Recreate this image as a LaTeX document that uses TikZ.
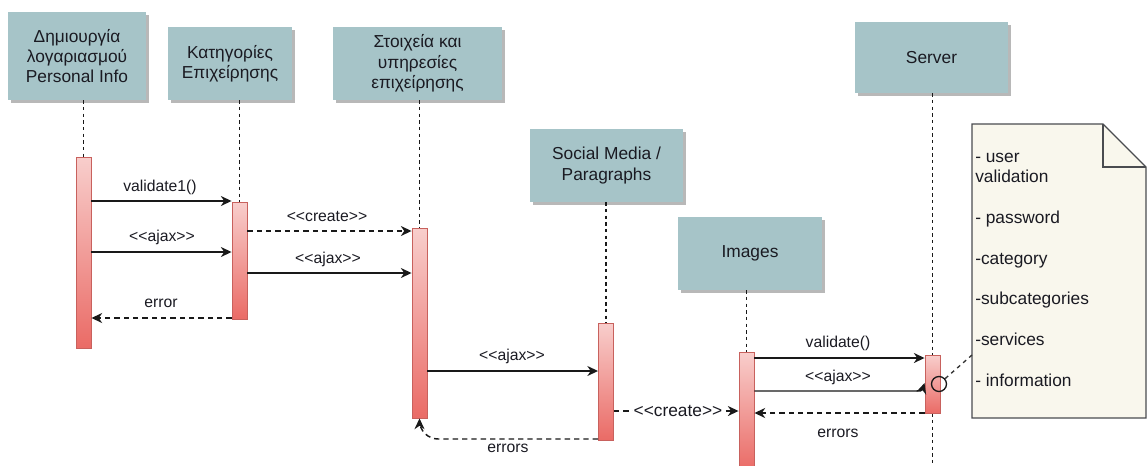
\documentclass[tikz,border=0pt]{standalone}
\usepackage{fontspec}
\setmainfont{Liberation Sans}
\usetikzlibrary{arrows.meta,shadows}
\definecolor{boxc}{HTML}{A6C4C8}
\definecolor{bartop}{HTML}{F8CECC}
\definecolor{barbot}{HTML}{EA6B66}
\definecolor{barline}{HTML}{C8615D}
\definecolor{notefill}{HTML}{F9F7ED}
\definecolor{noteline}{HTML}{4A4C50}
\definecolor{txt}{HTML}{1A1A22}
\begin{document}
\begin{tikzpicture}[x=0.75pt,y=-0.75pt,
  box/.style={fill=boxc, draw=none, align=center, text=txt,
    font=\fontsize{13}{15.3}\selectfont, inner sep=0pt,
    drop shadow={shadow xshift=2.5pt, shadow yshift=-2.5pt, fill=black!28, opacity=1}},
  bar/.style={top color=bartop, bottom color=barbot, draw=barline, line width=0.7pt,
    minimum width=11.25pt, inner sep=0pt},
  life/.style={draw=black!90, line width=1pt, dash pattern=on 2.5pt off 2.5pt},
  msg/.style={draw=black!90, line width=1.1pt, -{Stealth[length=8pt,width=7.5pt,inset=2.5pt]}},
  ret/.style={msg, dash pattern=on 4pt off 3pt},
  lbl/.style={text=txt, font=\fontsize{11.8}{14}\selectfont, inner sep=1pt},
  notetxt/.style={text=txt, font=\fontsize{13}{15.3}\selectfont, inner sep=0pt, anchor=base west}]
\useasboundingbox (0,0) rectangle (1147,465);
\clip (0,0) rectangle (1147,465);

% participants
\node[box, minimum width=103.5pt, minimum height=66pt] (p1) at (77,56) {Δημιουργία\\λογαριασμού\\Personal Info};
\node[box, minimum width=93pt, minimum height=54.75pt] (p2) at (230,63.5) {Κατηγορίες\\Επιχείρησης};
\node[box, minimum width=126.75pt, minimum height=54.75pt] (p3) at (417.5,63.5) {Στοιχεία και\\υπηρεσίες\\επιχείρησης};
\node[box, minimum width=114.75pt, minimum height=54.75pt] (p4) at (606.5,165.5) {Social Media /\\Paragraphs};
\node[box, minimum width=108pt, minimum height=54.75pt] (p5) at (750,253.5) {Images};
\node[box, minimum width=114.75pt, minimum height=53.25pt] (p6) at (931.5,57.5) {Server};

% lifeline end points (tops of the activation bars)
\coordinate (c1) at (83.5,157);
\coordinate (c2) at (239.5,202);
\coordinate (c3) at (419.5,228);
\coordinate (c4) at (606,323);
\coordinate (c5) at (746.5,352);
\coordinate (c6) at (932.5,355);

% lifelines
\draw[life] (c1 |- p1.south) -- (c1);
\draw[life] (c2 |- p2.south) -- (c2);
\draw[life] (c3 |- p3.south) -- (c3);
\draw[life] (c4 |- p4.south) -- (c4);
\draw[life] (c5 |- p5.south) -- (c5);
\draw[life] (c6 |- p6.south) -- (c6 |- 0,470);

\node[bar, minimum height=143.25pt] (b1) at (83.5,252.5) {};
\node[bar, minimum height=87.75pt] (b2) at (239.5,260.5) {};
\node[bar, minimum height=142.5pt] (b3) at (419.5,323) {};
\node[bar, minimum height=87.75pt] (b4) at (606,381.5) {};
\node[bar, minimum height=88.5pt] (b5) at (746.5,411) {};
\node[bar, minimum height=43.5pt] (b6) at (932.5,384) {};

% messages
\draw[msg] (b1.east |- 0,201) -- (b2.west |- 0,201);
\node[lbl] (l1) at (160,187) {validate1()};
\draw[ret] (b2.east |- 0,231) -- (b3.west |- 0,231);
\node[lbl] (l2) at (327,216) {<{}<create>{}>};
\draw[msg] (b1.east |- 0,252) -- (b2.west |- 0,252);
\node[lbl] (l3) at (162,237) {<{}<ajax>{}>};
\draw[msg] (b2.east |- 0,273) -- (b3.west |- 0,273);
\node[lbl] (l4) at (328,259) {<{}<ajax>{}>};
\draw[ret] (b2.west |- 0,318) -- (b1.east |- 0,318);
\node[lbl] (l5) at (161,303) {error};
\draw[msg] (b3.east |- 0,371) -- (b4.west |- 0,371);
\node[lbl] (l6) at (512,356) {<{}<ajax>{}>};
\draw[ret] (b4.east |- 0,411) -- (b5.west |- 0,411);
\node[lbl, fill=white, inner sep=0.5pt, font=\fontsize{13}{15}\selectfont] (l7) at (678,411) {<{}<create>{}>};
\draw[ret, rounded corners=14pt] (b4.west |- 0,439) -- (b3.south |- 0,439) -- (b3.south);
\node[lbl] (l8) at (508,448) {errors};
\draw[msg] (b5.east |- 0,358) -- (b6.west |- 0,358);
\node[lbl] (l9) at (838,343) {validate()};
\draw[msg] (b5.east |- 0,391) -- (910,391) .. controls (922,391) .. (b6.west |- 0,383);
\node[lbl] (l10) at (838,377) {<{}<ajax>{}>};
\draw[ret] (b6.west |- 0,413) -- (b5.east |- 0,413);
\node[lbl] (l11) at (838,433) {errors};

% note
\draw[noteline, fill=notefill, line width=0.9pt] (972,124) -- (1103,124) -- (1146,167) -- (1146,418) -- (972,418) -- cycle;
\draw[noteline, line width=0.9pt] (1103,124) -- (1103,167) -- (1146,167);
\coordinate (notepin) at (972,355);
\node[notetxt] (n1) at (975,162) {- user};
\node[notetxt] (n2) at (975,182.4) {validation};
\node[notetxt] (n3) at (975,223.2) {- password};
\node[notetxt] (n4) at (975,264) {-category};
\node[notetxt] (n5) at (975,304.8) {-subcategories};
\node[notetxt] (n6) at (975,345.6) {-services};
\node[notetxt] (n7) at (975,386.4) {- information};

\node[circle, draw=black!90, line width=1pt, minimum size=11.25pt, inner sep=0pt] (pin) at (939,384) {};
\draw[draw=black!80, line width=1pt, dash pattern=on 3pt off 3pt] (pin) -- (notepin);
\end{tikzpicture}
\end{document}
